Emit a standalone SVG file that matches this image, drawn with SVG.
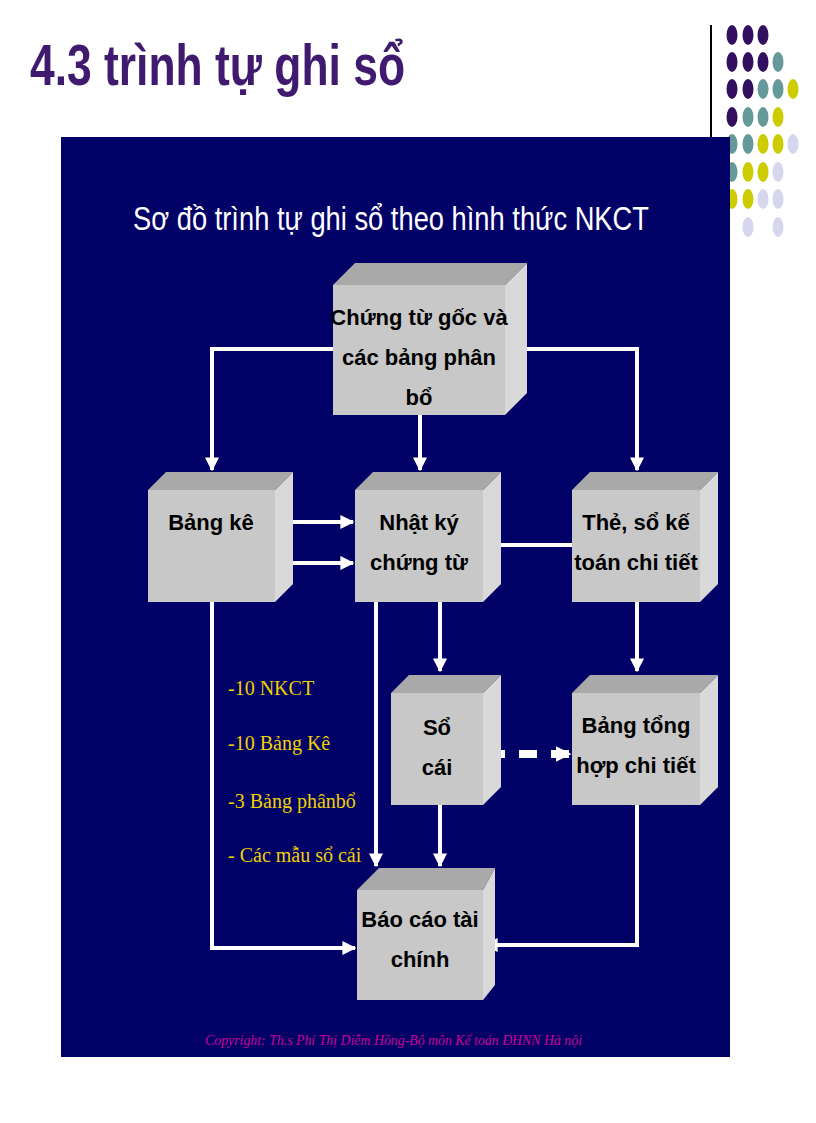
<svg xmlns="http://www.w3.org/2000/svg" width="816" height="1123" viewBox="0 0 816 1123">
<style>
.front{fill:#c8c8c8}
.top{fill:#a9a9a9}
.side{fill:#d9d9d9}
.bt{font-family:"Liberation Sans",Arial,sans-serif;font-weight:bold;font-size:22px;fill:#000;text-anchor:middle}
.c{stroke:#fff;stroke-width:4;fill:none}
.y{font-family:"Liberation Serif",serif;font-size:20px;fill:#f0d000}
</style>
<defs>
<marker id="a" viewBox="0 0 10 10" refX="9" refY="5" markerWidth="3.5" markerHeight="3.5" orient="auto" markerUnits="strokeWidth"><path d="M0,0L10,5L0,10z" fill="#fff"/></marker>
<marker id="a2" viewBox="0 0 10 10" refX="9" refY="5" markerWidth="2" markerHeight="2" orient="auto-start-reverse" markerUnits="strokeWidth"><path d="M0,0L10,5L0,10z" fill="#fff"/></marker>
</defs>
<rect width="816" height="1123" fill="#fff"/>
<text x="30" y="85" font-family="Liberation Sans,Arial,sans-serif" font-weight="bold" font-size="58" fill="#3f1a6e" textLength="375" lengthAdjust="spacingAndGlyphs">4.3 trình tự ghi sổ</text>
<line x1="711" y1="25" x2="711" y2="137" stroke="#000" stroke-width="2"/>
<g id="dots">
<g fill="#33105f"><ellipse cx="732" cy="35" rx="5.5" ry="10"/><ellipse cx="748" cy="35" rx="5.5" ry="10"/><ellipse cx="763" cy="35" rx="5.5" ry="10"/><ellipse cx="732" cy="62" rx="5.5" ry="10"/><ellipse cx="748" cy="62" rx="5.5" ry="10"/><ellipse cx="763" cy="62" rx="5.5" ry="10"/><ellipse cx="732" cy="89" rx="5.5" ry="10"/><ellipse cx="748" cy="89" rx="5.5" ry="10"/><ellipse cx="732" cy="117" rx="5.5" ry="10"/></g>
<g fill="#66999a"><ellipse cx="778" cy="62" rx="5.5" ry="10"/><ellipse cx="763" cy="89" rx="5.5" ry="10"/><ellipse cx="778" cy="89" rx="5.5" ry="10"/><ellipse cx="748" cy="117" rx="5.5" ry="10"/><ellipse cx="763" cy="117" rx="5.5" ry="10"/><ellipse cx="732" cy="144" rx="5.5" ry="10"/><ellipse cx="748" cy="144" rx="5.5" ry="10"/><ellipse cx="732" cy="172" rx="5.5" ry="10"/></g>
<g fill="#cccc00"><ellipse cx="793" cy="89" rx="5.5" ry="10"/><ellipse cx="778" cy="117" rx="5.5" ry="10"/><ellipse cx="763" cy="144" rx="5.5" ry="10"/><ellipse cx="778" cy="144" rx="5.5" ry="10"/><ellipse cx="748" cy="172" rx="5.5" ry="10"/><ellipse cx="763" cy="172" rx="5.5" ry="10"/><ellipse cx="732" cy="199" rx="5.5" ry="10"/><ellipse cx="748" cy="199" rx="5.5" ry="10"/></g>
<g fill="#d6d6ee"><ellipse cx="793" cy="144" rx="5.5" ry="10"/><ellipse cx="778" cy="172" rx="5.5" ry="10"/><ellipse cx="763" cy="199" rx="5.5" ry="10"/><ellipse cx="778" cy="199" rx="5.5" ry="10"/><ellipse cx="748" cy="227" rx="5.5" ry="10"/><ellipse cx="778" cy="227" rx="5.5" ry="10"/></g>
</g>
<rect x="61" y="137" width="669" height="920" fill="#000066"/>
<text x="391" y="230" font-family="Liberation Sans,Arial,sans-serif" font-size="33" fill="#fff" text-anchor="middle" textLength="516" lengthAdjust="spacingAndGlyphs">Sơ đồ trình tự ghi sổ theo hình thức NKCT</text>
<g id="connectors">
<path class="c" d="M333,349H212V470" marker-end="url(#a)"/>
<path class="c" d="M505,349H637V470" marker-end="url(#a)"/>
<path class="c" d="M420,415V470" marker-end="url(#a)"/>
<path class="c" d="M278,522H353" marker-end="url(#a)"/>
<path class="c" d="M278,563H353" marker-end="url(#a)"/>
<path class="c" d="M572,545H485" marker-end="url(#a)"/>
<path class="c" d="M440,602V671" marker-end="url(#a)"/>
<path class="c" d="M376,602V866" marker-end="url(#a)"/>
<path class="c" d="M440,805V866" marker-end="url(#a)"/>
<path class="c" d="M637,602V671" marker-end="url(#a)"/>
<path class="c" d="M212,602V948H355" marker-end="url(#a)"/>
<path class="c" d="M637,805V945H485" marker-end="url(#a)"/>
<path d="M487,754H570" stroke="#fff" stroke-width="8" stroke-dasharray="18,14" fill="none" marker-start="url(#a2)" marker-end="url(#a2)"/>
</g>
<g id="n1"><polygon class="top" points="333,285 355,263 527,263 505,285"/><polygon class="side" points="505,285 527,263 527,393 505,415"/><rect class="front" x="333" y="285" width="172" height="130"/>
<text class="bt"><tspan x="419" y="325">Chứng từ gốc và</tspan><tspan x="419" y="365">các bảng phân</tspan><tspan x="419" y="405">bổ</tspan></text></g>
<g id="n2"><polygon class="top" points="148,490 166,472 293,472 275,490"/><polygon class="side" points="275,490 293,472 293,584 275,602"/><rect class="front" x="148" y="490" width="127" height="112"/>
<text class="bt" x="211" y="530">Bảng kê</text></g>
<g id="n3"><polygon class="top" points="355,490 373,472 501,472 483,490"/><polygon class="side" points="483,490 501,472 501,584 483,602"/><rect class="front" x="355" y="490" width="128" height="112"/>
<text class="bt"><tspan x="419" y="530">Nhật ký</tspan><tspan x="419" y="570">chứng từ</tspan></text></g>
<g id="n4"><polygon class="top" points="572,490 590,472 718,472 700,490"/><polygon class="side" points="700,490 718,472 718,584 700,602"/><rect class="front" x="572" y="490" width="128" height="112"/>
<text class="bt"><tspan x="636" y="530">Thẻ, sổ kế</tspan><tspan x="636" y="570">toán chi tiết</tspan></text></g>
<g id="n5"><polygon class="top" points="391,693 409,675 501,675 483,693"/><polygon class="side" points="483,693 501,675 501,787 483,805"/><rect class="front" x="391" y="693" width="92" height="112"/>
<text class="bt"><tspan x="437" y="735">Sổ</tspan><tspan x="437" y="775">cái</tspan></text></g>
<g id="n6"><polygon class="top" points="572,693 590,675 718,675 700,693"/><polygon class="side" points="700,693 718,675 718,787 700,805"/><rect class="front" x="572" y="693" width="128" height="112"/>
<text class="bt"><tspan x="636" y="733">Bảng tổng</tspan><tspan x="636" y="773">hợp chi tiết</tspan></text></g>
<g id="n7"><polygon class="top" points="357,890 379,868 495,868 483,890"/><polygon class="side" points="483,890 495,868 495,985 483,1000"/><rect class="front" x="357" y="890" width="126" height="110"/>
<text class="bt"><tspan x="420" y="927">Báo cáo tài</tspan><tspan x="420" y="967">chính</tspan></text></g>
<g id="notes">
<text class="y" x="228" y="695">-10 NKCT</text>
<text class="y" x="228" y="750">-10 Bảng Kê</text>
<text class="y" x="228" y="808">-3 Bảng phânbổ</text>
<text class="y" x="228" y="862">- Các mẫu sổ cái</text>
</g>
<text x="205" y="1045" font-family="Liberation Serif,serif" font-style="italic" font-size="15" fill="#cc0099" textLength="377" lengthAdjust="spacingAndGlyphs">Copyright: Th.s Phí Thị Diễm Hồng-Bộ môn Kế toán ĐHNN Hà nội</text>
</svg>
